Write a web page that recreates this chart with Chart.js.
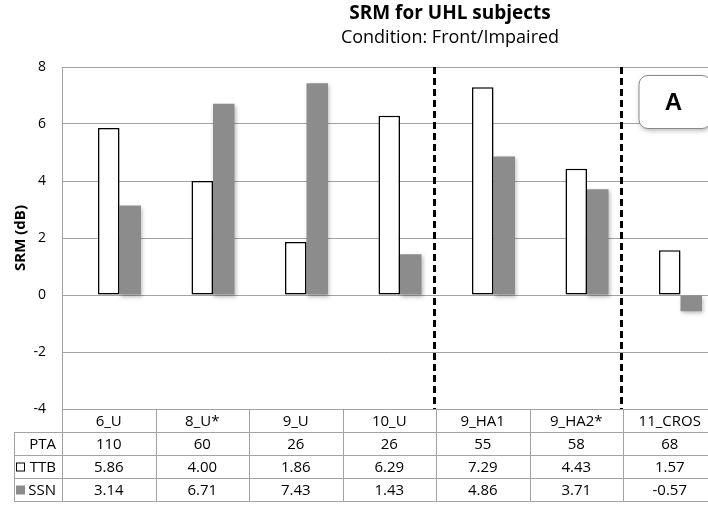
<!DOCTYPE html>
<html>
<head>
<meta charset="utf-8">
<script src="https://cdn.jsdelivr.net/npm/chart.js@4.4.0/dist/chart.umd.min.js"></script>
<style>
  html, body { margin: 0; padding: 0; background: #fff; overflow: hidden; }
  #wrap { width: 720px; height: 508px; }
</style>
</head>
<body>
<div id="wrap"><canvas id="srm" width="720" height="508"></canvas></div>
<script>
// subjects / fitting conditions
const categories = ['6_U', '8_U*', '9_U', '10_U', '9_HA1', '9_HA2*', '11_CROS'];
// pure tone average per subject
const ptaValues = [110, 60, 26, 26, 55, 58, 68];
// spatial release from masking (dB)
const ttbValues = [5.86, 4.00, 1.86, 6.29, 7.29, 4.43, 1.57];
const ssnValues = [3.14, 6.71, 7.43, 1.43, 4.86, 3.71, -0.57];
// y axis
const yMin = -4;
const yMax = 8;
const yStep = 2;
// dashed separators go after these category indexes
const groupBreaks = [3, 5];

const FONT = '"Open Sans", Lato, sans-serif';
const GRID = '#a3a3a3';
const SSN_GRAY = '#8c8c8c';

const tableRows = [
  { label: 'PTA', values: ptaValues, fmt: v => String(v) },
  { label: 'TTB', values: ttbValues, fmt: v => v.toFixed(2), swatch: '#ffffff' },
  { label: 'SSN', values: ssnValues, fmt: v => v.toFixed(2), swatch: SSN_GRAY }
];

const barShadow = {
  id: 'barShadow',
  beforeDatasetsDraw(chart) {
    const ctx = chart.ctx;
    ctx.save();
    ctx.shadowColor = 'rgba(0,0,0,0.28)';
    ctx.shadowBlur = 4;
    ctx.shadowOffsetX = 1;
    ctx.shadowOffsetY = 2;
  },
  afterDatasetsDraw(chart) {
    chart.ctx.restore();
  }
};

const separators = {
  id: 'separators',
  afterDatasetsDraw(chart) {
    const { ctx, chartArea } = chart;
    const x = chart.scales.x;
    ctx.save();
    ctx.strokeStyle = '#000';
    ctx.lineWidth = 3;
    ctx.setLineDash([7, 4]);
    groupBreaks.forEach(i => {
      const px = Math.round((x.getPixelForValue(i) + x.getPixelForValue(i + 1)) / 2) - 1.5;
      ctx.beginPath();
      ctx.moveTo(px, chartArea.top);
      ctx.lineTo(px, chartArea.bottom);
      ctx.stroke();
    });
    ctx.restore();
  }
};

const decorations = {
  id: 'decorations',
  afterDraw(chart) {
    const { ctx, chartArea } = chart;
    const x = chart.scales.x;
    const colW = x.width / categories.length;
    const rowH = 23;
    const top = chartArea.bottom;
    const tableLeft = 14;
    const bottom = top + rowH * (tableRows.length + 1);

    ctx.save();

    // titles
    ctx.fillStyle = '#000';
    ctx.textAlign = 'center';
    ctx.textBaseline = 'middle';
    ctx.font = 'bold 19px ' + FONT;
    ctx.fillText('SRM for UHL subjects', 450, 14);
    ctx.font = '18px ' + FONT;
    ctx.fillText('Condition: Front/Impaired', 450, 38);

    // y axis title
    ctx.save();
    ctx.translate(21, (chartArea.top + chartArea.bottom) / 2);
    ctx.rotate(-Math.PI / 2);
    ctx.font = 'bold 15px ' + FONT;
    ctx.fillText('SRM (dB)', 0, 0);
    ctx.restore();

    // data table grid
    ctx.strokeStyle = GRID;
    ctx.lineWidth = 1;
    ctx.beginPath();
    for (let r = 1; r <= tableRows.length + 1; r++) {
      const y = Math.round(top + r * rowH) + 0.5;
      ctx.moveTo(tableLeft, y);
      ctx.lineTo(chart.width, y);
    }
    ctx.moveTo(tableLeft + 0.5, top + rowH);
    ctx.lineTo(tableLeft + 0.5, bottom);
    for (let i = 0; i <= categories.length; i++) {
      const px = Math.round(chartArea.left + i * colW) + 0.5;
      ctx.moveTo(px, i === 0 ? chartArea.top : top);
      ctx.lineTo(px, bottom + 0.5);
    }
    ctx.stroke();

    // category labels and values
    ctx.fillStyle = '#000';
    ctx.font = '15px ' + FONT;
    ctx.textAlign = 'center';
    categories.forEach((c, i) => {
      const cx = x.getPixelForValue(i);
      ctx.fillText(c, cx, top + rowH / 2 + 1);
      tableRows.forEach((row, r) => {
        ctx.fillText(row.fmt(row.values[i]), cx, top + rowH * (r + 1.5) + 1);
      });
    });

    // row labels with legend keys
    ctx.textAlign = 'right';
    tableRows.forEach((row, r) => {
      const cy = top + rowH * (r + 1.5);
      ctx.fillStyle = '#000';
      ctx.fillText(row.label, chartArea.left - 6, cy + 1);
      if (row.swatch) {
        ctx.fillStyle = row.swatch;
        ctx.fillRect(16, cy - 4, 9, 9);
        if (row.swatch === '#ffffff') {
          ctx.strokeStyle = '#000';
          ctx.strokeRect(16.5, cy - 3.5, 8, 8);
        }
      }
    });

    // panel tag
    const bx = chartArea.right - 78;
    const by = chartArea.top + 8;
    const bw = 72;
    const bh = 53;
    ctx.save();
    ctx.shadowColor = 'rgba(0,0,0,0.3)';
    ctx.shadowBlur = 5;
    ctx.shadowOffsetX = 1;
    ctx.shadowOffsetY = 2;
    ctx.fillStyle = '#fff';
    ctx.beginPath();
    ctx.roundRect(bx + 0.5, by + 0.5, bw, bh, 9);
    ctx.fill();
    ctx.restore();
    ctx.strokeStyle = '#8a8a8a';
    ctx.beginPath();
    ctx.roundRect(bx + 0.5, by + 0.5, bw, bh, 9);
    ctx.stroke();
    ctx.fillStyle = '#000';
    ctx.textAlign = 'center';
    ctx.font = 'bold 24px "Liberation Sans", Arial, sans-serif';
    ctx.fillText('A', bx + 35, by + bh / 2 + 2);

    ctx.restore();
  }
};

new Chart(document.getElementById('srm'), {
  type: 'bar',
  data: {
    labels: categories,
    datasets: [
      {
        // keeps the PTA slot in each group, as in the table
        label: 'PTA',
        data: ptaValues.map(() => null),
        backgroundColor: 'transparent'
      },
      {
        label: 'TTB',
        data: ttbValues,
        backgroundColor: '#ffffff',
        borderColor: '#000000',
        borderWidth: 1.5,
        borderSkipped: false
      },
      {
        label: 'SSN',
        data: ssnValues,
        backgroundColor: SSN_GRAY,
        borderWidth: 0
      }
    ]
  },
  options: {
    responsive: false,
    animation: false,
    categoryPercentage: 0.69,
    barPercentage: 1.0,
    layout: { padding: { top: 67, bottom: 99, left: 0, right: 3.5 } },
    plugins: {
      legend: { display: false },
      title: { display: false },
      tooltip: { enabled: false }
    },
    scales: {
      x: {
        display: false,
        grid: { display: false }
      },
      y: {
        min: yMin,
        max: yMax,
        afterFit(scale) { scale.width = 62; },
        ticks: {
          stepSize: yStep,
          padding: 16,
          color: '#000',
          font: { family: FONT, size: 14 }
        },
        grid: { color: GRID, lineWidth: 1, drawTicks: false },
        border: { color: GRID, width: 1 }
      }
    }
  },
  plugins: [barShadow, separators, decorations]
});
</script>
</body>
</html>
